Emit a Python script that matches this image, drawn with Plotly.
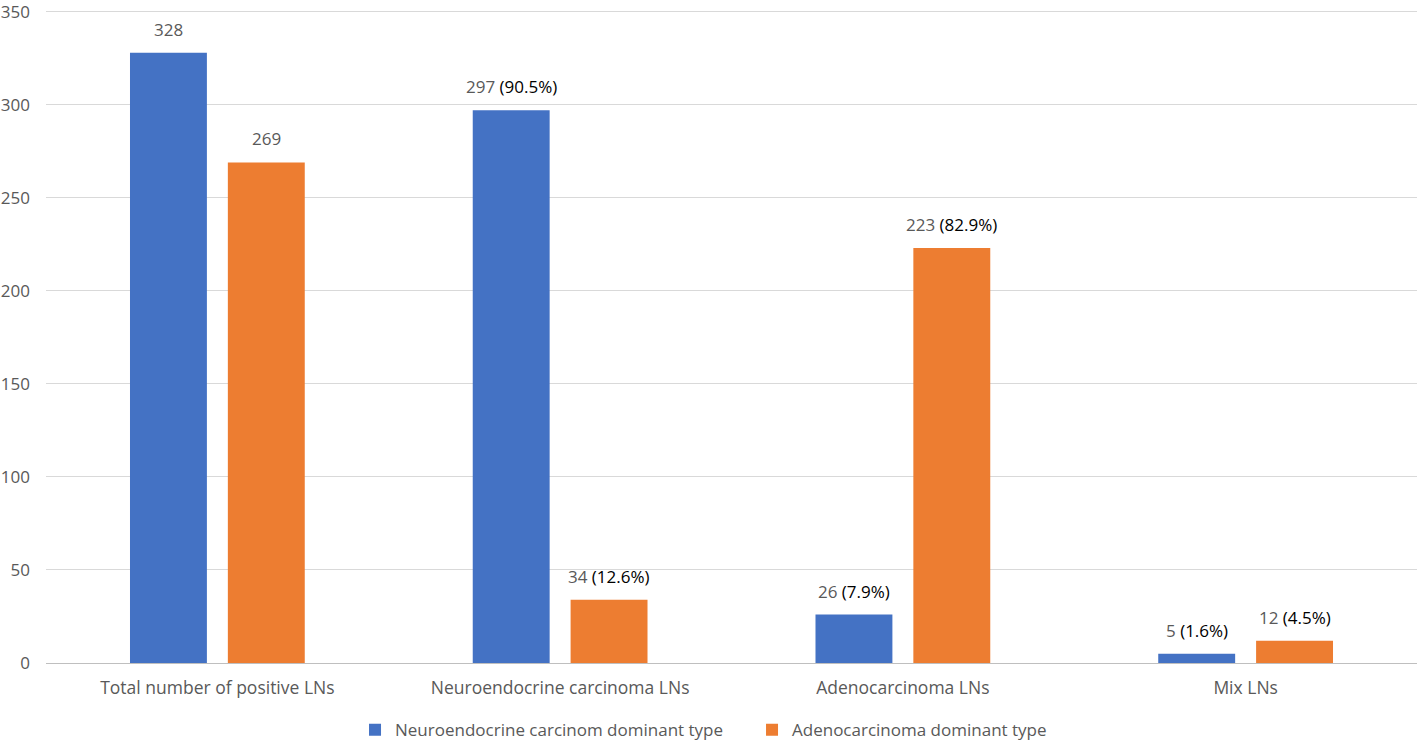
import plotly.graph_objects as go

categories = ["Total number of positive LNs", "Neuroendocrine carcinoma LNs",
              "Adenocarcinoma LNs", "Mix LNs"]
neuro_vals = [328, 297, 26, 5]
adeno_vals = [269, 34, 223, 12]
neuro_pct = ["", "(90.5%)", "(7.9%)", "(1.6%)"]
adeno_pct = ["", "(12.6%)", "(82.9%)", "(4.5%)"]
series_names = ["Neuroendocrine carcinom dominant type", "Adenocarcinoma dominant type"]
colors = ["#4472C4", "#ED7D31"]
y_ticks = [0, 50, 100, 150, 200, 250, 300, 350]

FONT = "Open Sans, Noto Sans, sans-serif"

fig = go.Figure()
fig.add_trace(go.Bar(x=categories, y=neuro_vals, name=series_names[0],
                     marker=dict(color=colors[0], line=dict(width=0))))
fig.add_trace(go.Bar(x=categories, y=adeno_vals, name=series_names[1],
                     marker=dict(color=colors[1], line=dict(width=0))))

annotations = []
for vals, pcts, shift in [(neuro_vals, neuro_pct, -49), (adeno_vals, adeno_pct, 49)]:
    for c, v, p in zip(categories, vals, pcts):
        txt = f"{v}" + (f" <span style='color:#000000'>{p}</span>" if p else "")
        annotations.append(dict(x=c, y=v, xref="x", yref="y", text=txt,
                                showarrow=False, xanchor="center", yanchor="bottom",
                                xshift=shift, yshift=10,
                                font=dict(family=FONT, size=17, color="#595959")))

fig.update_layout(
    width=1418, height=749,
    margin=dict(l=46, r=1, t=8, b=86),
    paper_bgcolor="white", plot_bgcolor="white",
    barmode="group", bargap=0.429, bargroupgap=0.214,
    font=dict(family=FONT, color="#595959", size=17),
    annotations=annotations,
    showlegend=True,
    legend=dict(orientation="h", x=0.2254, xanchor="left", y=-0.075, yanchor="top",
                font=dict(size=17, color="#595959"), itemwidth=30,
                entrywidth=352, entrywidthmode="pixels"),
    xaxis=dict(showgrid=False, showline=False, ticks="", tickfont=dict(size=17.5),
               automargin=False, ticklabelstandoff=12),
    yaxis=dict(range=[0, 352], tickvals=y_ticks, showgrid=True, gridcolor="#D9D9D9",
               gridwidth=1, zeroline=True, zerolinecolor="#BFBFBF", zerolinewidth=1,
               tickfont=dict(size=17), ticklabelstandoff=15, automargin=False,
               ticklabeloverflow="allow"),
)

fig.write_html("out.html", post_script="document.body.style.margin='0';",
               config={"displayModeBar": False})
